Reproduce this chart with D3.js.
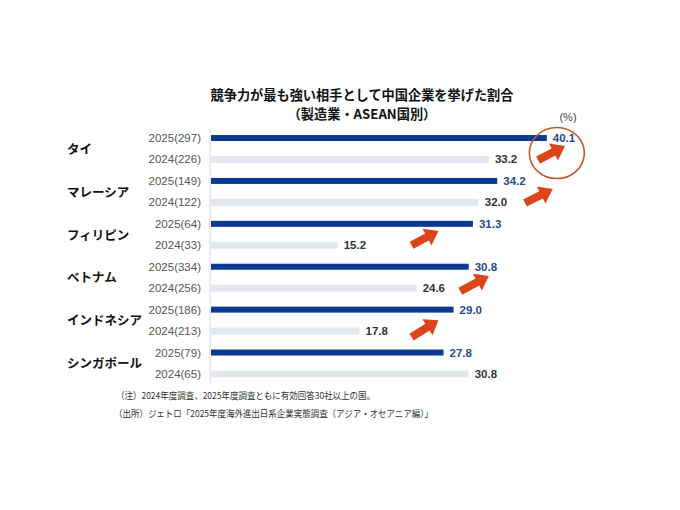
<!DOCTYPE html>
<html><head><meta charset="utf-8">
<script src="https://cdn.jsdelivr.net/npm/d3@7/dist/d3.min.js"></script>
<style>body{margin:0;background:#fff}svg{display:block}</style>
</head><body>
<script>
const countries = ["タイ","マレーシア","フィリピン","ベトナム","インドネシア","シンガポール"];
const labels2025 = ["2025(297)","2025(149)","2025(64)","2025(334)","2025(186)","2025(79)"];
const labels2024 = ["2024(226)","2024(122)","2024(33)","2024(256)","2024(213)","2024(65)"];
const values2025 = [40.1,34.2,31.3,30.8,29.0,27.8];
const values2024 = [33.2,32.0,15.2,24.6,17.8,30.8];
const titleLines = ["競争力が最も強い相手として中国企業を挙げた割合","（製造業・ASEAN国別）"];
const unitLabel = "(%)";
const notes = ["（注）2024年度調査、2025年度調査ともに有効回答30社以上の国。","（出所）ジェトロ「2025年度海外進出日系企業実態調査（アジア・オセアニア編）」"];
// annotation arrows: [tailValue, tailRow, tipValue, tipRow]
const arrows = [[39.05,1.03,42.26,0.37],[37.5,3.03,40.8,2.38],[24.0,5.0,27.2,4.33],[29.8,7.14,33.2,6.43],[24.0,9.28,27.2,8.5]];

const W=680,H=510;
const svg=d3.select("body").append("svg").attr("width",W).attr("height",H);
const rows=[];
countries.forEach((c,i)=>{
  rows.push({key:c+"2025",country:c,label:labels2025[i],value:values2025[i],year:2025});
  rows.push({key:c+"2024",country:c,label:labels2024[i],value:values2024[i],year:2024});
});
const y=d3.scaleBand().domain(rows.map(d=>d.key)).range([127.3,384.7]).paddingInner(0);
const x=d3.scaleLinear().domain([0,45]).range([210,588]);
const yc=k=>y(k)+y.bandwidth()/2;
const yRow=r=>127.3+y.bandwidth()*(r+0.5);

const font="'Noto Sans CJK JP','Noto Sans',sans-serif";
const latin="'Liberation Sans',Arial,sans-serif";

// title
svg.selectAll("text.title").data(titleLines).join("text")
  .attr("x",362).attr("y",(d,i)=>100+i*19).attr("text-anchor","middle")
  .attr("font-family",font).attr("font-weight","bold").attr("font-size",13.2).attr("fill","#111").text(d=>d);
svg.append("text").attr("x",568).attr("y",121).attr("text-anchor","middle")
  .attr("font-family",latin).attr("font-size",11).attr("fill","#444").text(unitLabel);

// axis line
svg.append("line").attr("x1",x(0)).attr("x2",x(0)).attr("y1",127).attr("y2",385)
  .attr("stroke","#d8d8d8").attr("stroke-width",1);

// bars
svg.selectAll("rect.bar").data(rows).join("rect")
  .attr("x",x(0)+1).attr("y",d=>yc(d.key)-(d.year===2025?3:3.5))
  .attr("width",d=>x(d.value)-x(0)-1).attr("height",d=>d.year===2025?6:7)
  .attr("fill",d=>d.year===2025?"#0b3a93":"#e4e8ee");

// value labels
svg.selectAll("text.val").data(rows).join("text")
  .attr("x",d=>x(d.value)+6).attr("y",d=>yc(d.key)+4)
  .attr("font-family",latin).attr("font-weight","bold").attr("font-size",11.5)
  .attr("fill",d=>d.year===2025?"#1d4d8f":"#333").text(d=>d.value.toFixed(1));

// year labels
svg.selectAll("text.yr").data(rows).join("text")
  .attr("x",201).attr("y",d=>yc(d.key)+4).attr("text-anchor","end")
  .attr("font-family",latin).attr("font-size",11.5).attr("fill","#555").text(d=>d.label);

// country labels
svg.selectAll("text.cty").data(countries).join("text")
  .attr("x",67).attr("y",(d,i)=>(yc(d+"2025")+yc(d+"2024"))/2+5)
  .attr("font-family",font).attr("font-weight","bold").attr("font-size",12.5).attr("fill","#111").text(d=>d);

// arrows
const shaftW=8,headW=19,headL=13;
svg.selectAll("path.arrow").data(arrows).join("path")
  .attr("d",a=>{
    const x1=x(a[0]),y1=yRow(a[1]),x2=x(a[2]),y2=yRow(a[3]);
    const L=Math.hypot(x2-x1,y2-y1),ang=Math.atan2(y2-y1,x2-x1);
    const pts=[[0,-shaftW/2],[L-headL,-shaftW/2],[L-headL,-headW/2],[L,0],[L-headL,headW/2],[L-headL,shaftW/2],[0,shaftW/2]];
    const c=Math.cos(ang),s=Math.sin(ang);
    return "M"+pts.map(p=>[x1+p[0]*c-p[1]*s,y1+p[0]*s+p[1]*c].join(",")).join("L")+"Z";
  })
  .attr("fill","#dc4519");

// circle highlight
svg.append("ellipse").attr("cx",x(values2025[0])+10).attr("cy",yRow(0.7)).attr("rx",27.5).attr("ry",25.5)
  .attr("fill","none").attr("stroke","#c8542c").attr("stroke-width",1.6);

// notes
svg.selectAll("text.note").data(notes).join("text")
  .attr("x",(d,i)=>i===0?116:114).attr("y",(d,i)=>399+i*18)
  .attr("font-family",font).attr("font-size",9.5).attr("fill","#333")
  .attr("textLength",(d,i)=>i===0?259:319).attr("lengthAdjust","spacingAndGlyphs").text(d=>d);
</script>
</body></html>
